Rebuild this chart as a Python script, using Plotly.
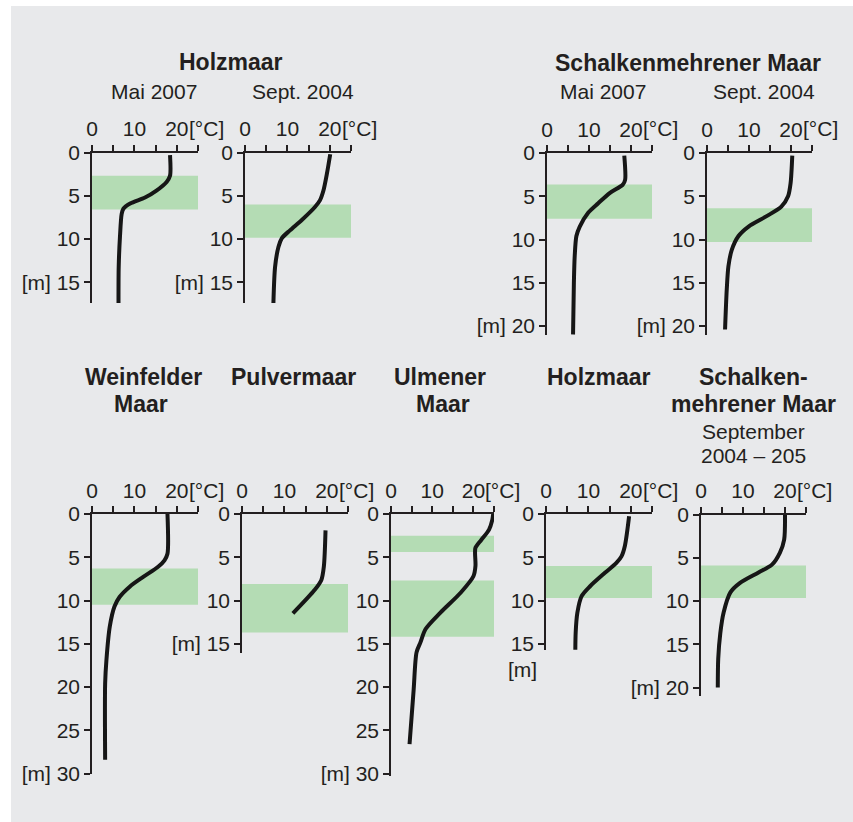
import plotly.graph_objects as go

W, H = 853, 822
BG = "#e8e9eb"
GREEN = "#b4dcb4"
INK = "#231f20"
FONT = "Arial, Liberation Sans, sans-serif"

# --- temperature profiles: depth [m] and temperature [°C] ---
holz_mai07_depth = [0.3, 2.7, 3.4, 4.4, 5.2, 5.9, 6.5, 7.1, 9.7, 13.2, 17.4]
holz_mai07_temp = [18.4, 18.4, 17.6, 15.2, 12.5, 9.0, 7.4, 7.0, 6.6, 6.3, 6.25]
holz_mai07_band = [2.7, 6.6]

holz_sep04_depth = [0.2, 2.5, 4.4, 5.5, 6.3, 7.8, 9.0, 9.9, 10.9, 13.2, 17.4]
holz_sep04_temp = [20.1, 19.3, 18.5, 17.7, 16.5, 13.4, 10.6, 8.7, 7.9, 7.1, 6.7]
holz_sep04_band = [6.0, 9.85]

schalk_mai07_depth = [0.3, 3.1, 3.65, 4.6, 5.8, 6.9, 8.5, 9.6, 11.9, 15.0, 21.0]
schalk_mai07_temp = [18.4, 18.6, 18.05, 15.0, 12.2, 9.8, 7.8, 7.0, 6.6, 6.4, 6.2]
schalk_mai07_band = [3.65, 7.6]

schalk_sep04_depth = [0.3, 3.5, 5.0, 6.2, 7.3, 8.5, 9.6, 11.2, 13.1, 15.8, 20.4]
schalk_sep04_temp = [20.3, 19.9, 19.3, 17.7, 14.2, 9.9, 7.5, 5.9, 5.1, 4.7, 4.3]
schalk_sep04_band = [6.4, 10.3]

weinfeld_depth = [0, 4.6, 5.35, 6.1, 7.3, 8.4, 9.6, 10.7, 13.0, 16.9, 19.6, 28.4]
weinfeld_temp = [17.8, 17.8, 17.1, 15.6, 12.0, 8.9, 6.5, 5.3, 4.2, 3.4, 3.1, 3.1]
weinfeld_band = [6.3, 10.5]

pulver_depth = [1.9, 6.1, 7.65, 8.8, 11.5]
pulver_temp = [19.7, 19.3, 18.7, 17.1, 12.0]
pulver_band = [8.1, 13.7]

ulmen_depth = [0, 0.65, 1.8, 3.0, 3.9, 4.5, 6.0, 7.2, 9.1, 11.4, 13.3, 14.9, 16.0, 20.3, 26.6]
ulmen_temp = [24.8, 24.6, 23.8, 21.9, 20.5, 20.4, 20.5, 20.0, 16.9, 12.0, 8.4, 7.1, 6.2, 5.5, 4.5]
ulmen_band_upper = [2.5, 4.4]
ulmen_band_lower = [7.7, 14.2]

holz_sep_depth = [0.27, 3.7, 4.9, 5.65, 6.8, 8.35, 9.5, 11.4, 13.7, 17.0]
holz_sep_temp = [19.6, 18.6, 17.8, 16.6, 13.9, 10.4, 8.4, 7.4, 7.0, 6.9]
holz_sep_band = [6.0, 9.7]

schalk_0405_depth = [0, 2.9, 4.4, 5.8, 6.7, 7.9, 9.0, 11.3, 13.7, 16.7, 20.0]
schalk_0405_temp = [20.0, 19.8, 18.8, 16.9, 13.7, 9.3, 7.0, 5.4, 4.6, 4.1, 4.0]
schalk_0405_band = [5.9, 9.65]

temp_ticks = [0, 5, 10, 15, 20, 25]
temp_labels = ["0", "", "10", "", "20", ""]

# panel geometry in pixels: left edge (0 °C), right edge (25 °C), top (0 m), depth shown
PX_PER_M = 8.65
panels = [
    dict(d=holz_mai07_depth, t=holz_mai07_temp, bands=[holz_mai07_band],
         x0=92, x1=198, y0=152.5, dmax=17.4, dticks=[0, 5, 10, 15], dlab=["0", "5", "10", "[m] 15"]),
    dict(d=holz_sep04_depth, t=holz_sep04_temp, bands=[holz_sep04_band],
         x0=245, x1=351, y0=152.5, dmax=17.4, dticks=[0, 5, 10, 15], dlab=["0", "5", "10", "[m] 15"]),
    dict(d=schalk_mai07_depth, t=schalk_mai07_temp, bands=[schalk_mai07_band],
         x0=547, x1=652, y0=153, dmax=21.0, dticks=[0, 5, 10, 15, 20], dlab=["0", "5", "10", "15", "[m] 20"]),
    dict(d=schalk_sep04_depth, t=schalk_sep04_temp, bands=[schalk_sep04_band],
         x0=707, x1=812, y0=153, dmax=21.0, dticks=[0, 5, 10, 15, 20], dlab=["0", "5", "10", "15", "[m] 20"]),
    dict(d=weinfeld_depth, t=weinfeld_temp, bands=[weinfeld_band],
         x0=92, x1=198, y0=514, dmax=30.0, dticks=[0, 5, 10, 15, 20, 25, 30],
         dlab=["0", "5", "10", "15", "20", "25", "[m] 30"]),
    dict(d=pulver_depth, t=pulver_temp, bands=[pulver_band],
         x0=242, x1=348, y0=514, dmax=16.1, dticks=[0, 5, 10, 15], dlab=["0", "5", "10", "[m] 15"]),
    dict(d=ulmen_depth, t=ulmen_temp, bands=[ulmen_band_upper, ulmen_band_lower],
         x0=391, x1=494, y0=514, dmax=30.3, dticks=[0, 5, 10, 15, 20, 25, 30],
         dlab=["0", "5", "10", "15", "20", "25", "[m] 30"]),
    dict(d=holz_sep_depth, t=holz_sep_temp, bands=[holz_sep_band],
         x0=546, x1=652, y0=514, dmax=15.7, dticks=[0, 5, 10, 15], dlab=["0", "5", "10", "15"]),
    dict(d=schalk_0405_depth, t=schalk_0405_temp, bands=[schalk_0405_band],
         x0=701, x1=806, y0=514.5, dmax=21.0, dticks=[0, 5, 10, 15, 20], dlab=["0", "5", "10", "15", "[m] 20"]),
]


def fx(px):
    return px / W


def fy(py):
    return 1 - py / H


fig = go.Figure()
# thin white strips along the left and top edges of the grey page
shapes = [
    dict(type="rect", xref="paper", yref="paper", x0=0, x1=fx(11), y0=0, y1=1,
         fillcolor="#ffffff", line=dict(width=0), layer="below"),
    dict(type="rect", xref="paper", yref="paper", x0=0, x1=1, y0=fy(6), y1=1,
         fillcolor="#ffffff", line=dict(width=0), layer="below"),
]
annotations = []
axis_font = dict(family=FONT, size=21, color=INK)

for i, p in enumerate(panels, start=1):
    sfx = "" if i == 1 else str(i)
    xa, ya = "x" + sfx, "y" + sfx
    y1 = p["y0"] + p["dmax"] * PX_PER_M
    fig.add_trace(go.Scatter(x=p["t"], y=p["d"], mode="lines", xaxis=xa, yaxis=ya,
                             line=dict(color="#161616", width=4, shape="spline", smoothing=0.8),
                             showlegend=False, hoverinfo="skip"))
    for b in p["bands"]:
        shapes.append(dict(type="rect", xref=xa, yref=ya, x0=0, x1=25, y0=b[0], y1=b[1],
                           fillcolor=GREEN, line=dict(width=0), layer="below"))
    fig.layout["xaxis" + sfx] = dict(
        domain=[fx(p["x0"]), fx(p["x1"])], anchor=ya, side="top", range=[0, 25],
        tickvals=temp_ticks, ticktext=temp_labels, ticks="outside", ticklen=6, tickwidth=1.5,
        tickcolor=INK, showline=True, linecolor=INK, linewidth=1.5, showgrid=False,
        zeroline=False, tickfont=axis_font, fixedrange=True, automargin=False)
    fig.layout["yaxis" + sfx] = dict(
        domain=[fy(y1), fy(p["y0"])], anchor=xa, range=[p["dmax"], 0],
        tickvals=p["dticks"], ticktext=p["dlab"], ticks="outside", ticklen=6, tickwidth=1.5,
        tickcolor=INK, showline=True, linecolor=INK, linewidth=1.5, showgrid=False,
        zeroline=False, tickfont=axis_font, fixedrange=True, automargin=False)
    # unit label after the "20" tick
    annotations.append(dict(text="[°C]", xref="paper", yref="paper", x=fx(p["x1"] + 8),
                            y=fy(p["y0"] - 24), showarrow=False, font=axis_font,
                            xanchor="center", yanchor="middle"))

# unit label placed under the depth axis of the lower Holzmaar panel
annotations.append(dict(text="[m]", xref="paper", yref="paper", x=fx(522), y=fy(669),
                        showarrow=False, font=axis_font, xanchor="center", yanchor="middle"))

titles = [
    ("Holzmaar", 231, 62, True), ("Mai 2007", 154, 91, False), ("Sept. 2004", 303, 91, False),
    ("Schalkenmehrener Maar", 688, 63, True), ("Mai 2007", 603, 91, False), ("Sept. 2004", 764, 91, False),
    ("Weinfelder", 143, 377, True), ("Maar", 141, 404, True),
    ("Pulvermaar", 293, 377, True),
    ("Ulmener", 440, 377, True), ("Maar", 443, 404, True),
    ("Holzmaar", 599, 377, True),
    ("Schalken-", 753, 377, True), ("mehrener Maar", 753, 404, True),
    ("September", 753, 431, False), ("2004 – 205", 753, 455, False),
]
for text, x, y, bold in titles:
    annotations.append(dict(text=f"<b>{text}</b>" if bold else text, xref="paper", yref="paper",
                            x=fx(x), y=fy(y), showarrow=False, xanchor="center", yanchor="middle",
                            font=dict(family=FONT, size=23 if bold else 21, color=INK)))

fig.update_layout(template="none", width=W, height=H, margin=dict(l=0, r=0, t=0, b=0, pad=0),
                  paper_bgcolor=BG, plot_bgcolor="rgba(0,0,0,0)",
                  shapes=shapes, annotations=annotations, showlegend=False)

fig.write_html("out.html", config={"displayModeBar": False})
